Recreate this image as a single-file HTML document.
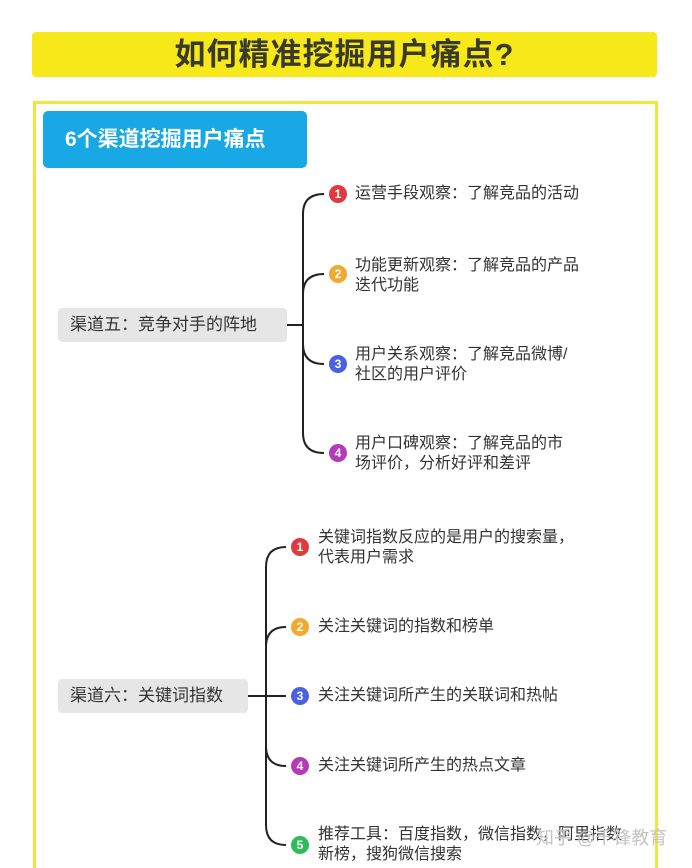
<!DOCTYPE html>
<html style="overflow:hidden;height:868px"><head><meta charset="utf-8"><style>
body{margin:0;width:692px;height:868px;background:#fff;position:relative;overflow:hidden;font-family:"Liberation Sans","Noto Sans CJK SC",sans-serif;}
.title{position:absolute;left:32px;top:32px;width:625px;height:45px;background:#f7e81a;border-radius:4px;text-align:center;line-height:45px;font-size:31px;font-weight:bold;color:#3a3a2a;letter-spacing:1px}
.frame{position:absolute;left:33px;top:101px;width:619px;height:775px;border:3px solid #f2e63a;box-sizing:content-box}
.blue{position:absolute;left:43px;top:111px;width:264px;height:57px;background:#18a8e6;border-radius:5px;color:#fff;font-size:21px;font-weight:bold;line-height:57px;text-indent:22px}
.lab{position:absolute;background:#e6e6e6;border-radius:4px;font-size:17px;color:#333;line-height:34px;padding-left:12px;height:34px}
.t{position:absolute;font-size:16px;color:#333;line-height:20px}
.c{position:absolute;width:18px;height:18px;border-radius:50%;color:#fff;font-size:12px;font-weight:bold;text-align:center;line-height:18px}
</style></head><body>
<div class="title">如何精准挖掘用户痛点?</div>
<div class="frame"></div>
<div class="blue">6个渠道挖掘用户痛点</div>
<svg width="692" height="868" style="position:absolute;left:0;top:0" fill="none" stroke="#222" stroke-width="2">
<path d="M287 325 H303"/>
<path d="M303 325 V214 Q303 194 324 194"/>
<path d="M303 325 V294 Q303 274 324 274"/>
<path d="M303 325 V344 Q303 364 324 364"/>
<path d="M303 325 V433 Q303 453 324 453"/>
<path d="M248 696 H266"/>
<path d="M266 696 V567 Q266 547 286 547"/>
<path d="M266 696 V647 Q266 627 286 627"/>
<path d="M266 696 H286"/>
<path d="M266 696 V746 Q266 766 286 766"/>
<path d="M266 696 V825 Q266 845 286 845"/>
</svg>
<div class="lab" style="left:58px;top:308px;width:217px">渠道五：竞争对手的阵地</div>
<div class="lab" style="left:58px;top:679px;width:178px">渠道六：关键词指数</div>
<div class="c" style="left:329px;top:185px;background:#e0393e">1</div>
<div class="t" style="left:355px;top:184px">运营手段观察：了解竞品的活动</div>
<div class="c" style="left:329px;top:265px;background:#f2a930">2</div>
<div class="t" style="left:355px;top:256px">功能更新观察：了解竞品的产品<br>迭代功能</div>
<div class="c" style="left:329px;top:355px;background:#4a62e0">3</div>
<div class="t" style="left:355px;top:345px">用户关系观察：了解竞品微博/<br>社区的用户评价</div>
<div class="c" style="left:329px;top:444px;background:#b33bb8">4</div>
<div class="t" style="left:355px;top:434px">用户口碑观察：了解竞品的市<br>场评价，分析好评和差评</div>
<div class="c" style="left:291px;top:538px;background:#e0393e">1</div>
<div class="t" style="left:318px;top:528px">关键词指数反应的是用户的搜索量，<br>代表用户需求</div>
<div class="c" style="left:291px;top:618px;background:#f2a930">2</div>
<div class="t" style="left:318px;top:617px">关注关键词的指数和榜单</div>
<div class="c" style="left:291px;top:687px;background:#4a62e0">3</div>
<div class="t" style="left:318px;top:686px">关注关键词所产生的关联词和热帖</div>
<div class="c" style="left:291px;top:757px;background:#b33bb8">4</div>
<div class="t" style="left:318px;top:756px">关注关键词所产生的热点文章</div>
<div class="c" style="left:291px;top:836px;background:#2ebd58">5</div>
<div class="t" style="left:318px;top:825px">推荐工具：百度指数，微信指数，阿里指数<br>新榜，搜狗微信搜索</div>
<div class="t" style="left:536px;top:828px;font-size:18px;color:#c4c4c4">知乎 @千锋教育</div>
</body></html>
